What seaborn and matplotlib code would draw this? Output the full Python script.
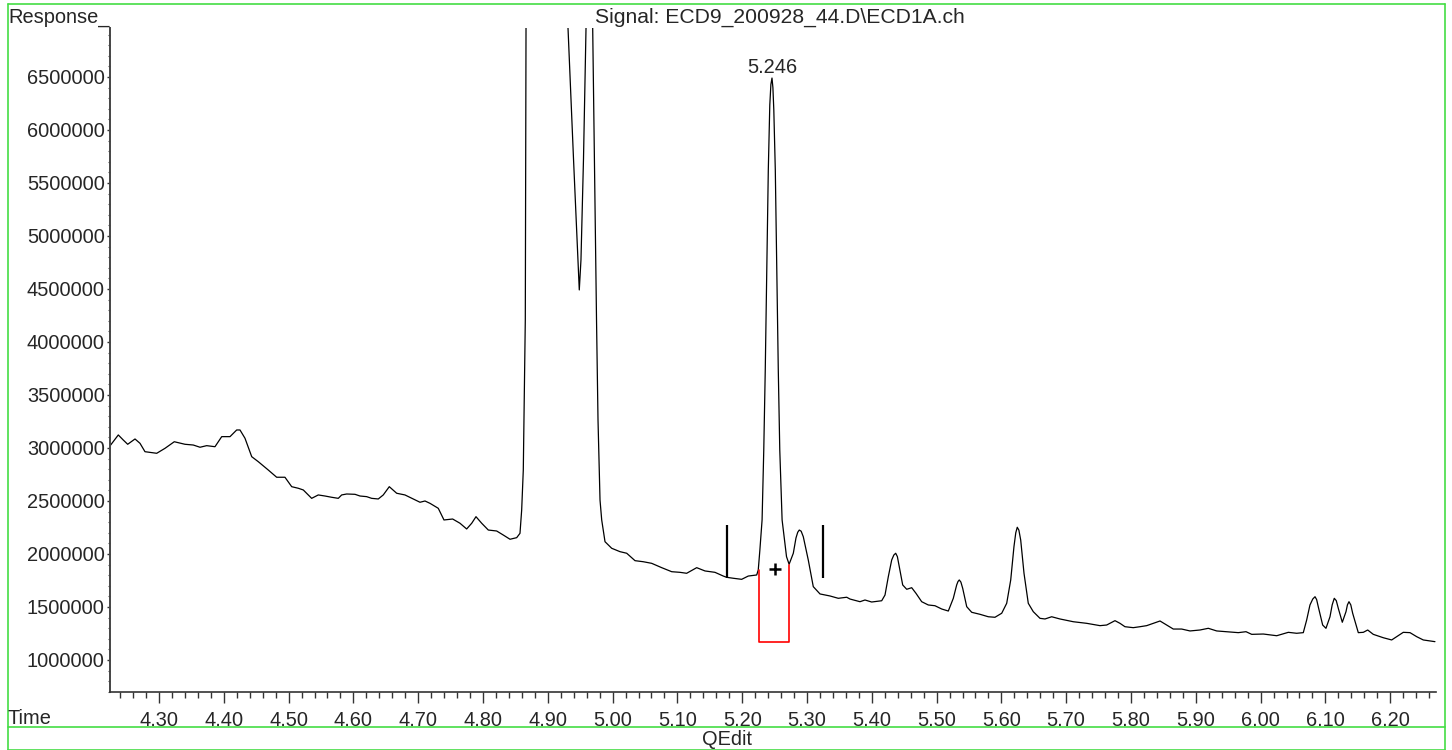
import matplotlib
matplotlib.use("Agg")
import matplotlib.pyplot as plt
import seaborn as sns
import pandas as pd
from matplotlib.ticker import MultipleLocator, FormatStrFormatter
from matplotlib.lines import Line2D

# ---------------- data ----------------
time_min = [
    4.2244, 4.2372, 4.2449, 4.2517, 4.2630, 4.2707, 4.2784, 4.2861, 4.2965, 4.3093,
    4.3236, 4.3401, 4.3529, 4.3633, 4.3736, 4.3864, 4.3968, 4.4096, 4.4199, 4.4250,
    4.4327, 4.4431, 4.4532, 4.4687, 4.4816, 4.4944, 4.5048, 4.5150, 4.5227,
    4.5356, 4.5458, 4.5562, 4.5665, 4.5767, 4.5819, 4.5897, 4.6025, 4.6102, 4.6205,
    4.6282, 4.6384, 4.6461, 4.6554, 4.6668, 4.6796, 4.6924, 4.7028, 4.7105, 4.7182,
    4.7310, 4.7398, 4.7532, 4.7645, 4.7748, 4.7826, 4.7892, 4.7980, 4.8082, 4.8211,
    4.8313, 4.8417, 4.8520, 4.8571, 4.8597, 4.8622,
    4.8653, 4.8664, 4.8680, 4.9000, 4.9295, 4.9312, 4.9397, 4.9466, 4.9486, 4.9512,
    4.9551, 4.9590, 4.9610, 4.9640, 4.9675, 4.9693, 4.9752, 4.9775, 4.9806, 4.9832, 4.9883,
    4.9986, 5.0114, 5.0218, 5.0346, 5.0474, 5.0603, 5.0758, 5.0912, 5.1040, 5.1143,
    5.1298, 5.1426, 5.1580, 5.1708, 5.1761, 5.1863, 5.1992, 5.2094, 5.2224, 5.2248,
    5.2273, 5.2307, 5.2333, 5.2356, 5.2380, 5.2403, 5.2426, 5.2443, 5.2460, 5.2474,
    5.2488, 5.2511, 5.2534, 5.2557, 5.2580, 5.2616, 5.2684, 5.2724, 5.2789, 5.2830,
    5.2857, 5.2881, 5.2910, 5.2943,
    5.3020, 5.3097, 5.3201, 5.3355, 5.3483, 5.3613,
    5.3664, 5.3818, 5.3895, 5.3998, 5.4153, 5.4204, 5.4255, 5.4307, 5.4340, 5.4369,
    5.4395, 5.4424, 5.4477, 5.4539, 5.4616, 5.4682, 5.4770, 5.4872, 5.4975, 5.5079,
    5.5181, 5.5258, 5.5310, 5.5330, 5.5350, 5.5375, 5.5403, 5.5465, 5.5542, 5.5670,
    5.5798, 5.5901, 5.6005, 5.6082, 5.6144, 5.6194, 5.6222, 5.6245, 5.6270, 5.6298,
    5.6349, 5.6415, 5.6492, 5.6596, 5.6673, 5.6776,
    5.6904, 5.7110, 5.7316, 5.7522, 5.7625, 5.7753, 5.7830, 5.7907, 5.8035, 5.8139,
    5.8242, 5.8344, 5.8448, 5.8551, 5.8653, 5.8782, 5.8911, 5.9065, 5.9193, 5.9323,
    5.9477, 5.9656, 5.9775, 5.9863, 6.0042, 6.0249, 6.0428, 6.0557, 6.0659, 6.0711,
    6.0762, 6.0805, 6.0840, 6.0865, 6.0890, 6.0958, 6.1009, 6.1071, 6.1105, 6.1137,
    6.1168, 6.1199, 6.1261, 6.1318, 6.1340, 6.1364, 6.1392, 6.1421, 6.1508, 6.1585,
    6.1653, 6.1739, 6.1894, 6.2023, 6.2100, 6.2202, 6.2306, 6.2409, 6.2511, 6.2691,
]

response = [
    3020000, 3123000, 3075000, 3035000, 3085000, 3044000, 2965000, 2959000, 2950000, 2997000,
    3059000, 3035000, 3028000, 3007000, 3022000, 3012000, 3107000, 3107000, 3170000, 3170000,
    3092000, 2918000, 2871000, 2792000, 2724000, 2724000, 2635000, 2620000, 2604000,
    2525000, 2557000, 2547000, 2535000, 2525000, 2557000, 2566000, 2563000, 2547000, 2541000,
    2525000, 2519000, 2557000, 2635000, 2573000, 2557000, 2519000, 2488000, 2500000, 2478000,
    2431000, 2321000, 2330000, 2290000, 2236000, 2290000, 2352000, 2290000, 2226000, 2217000,
    2179000, 2139000, 2154000, 2195000, 2415000, 2792000,
    4208000, 6962000, 7600000, 20000000, 7600000, 6962000, 5726000, 4774000, 4491000, 4774000,
    5726000, 6962000, 7600000, 14000000, 7600000, 6962000, 4208000, 3264000, 2509000, 2321000, 2116000,
    2054000, 2022000, 2007000, 1937000, 1927000, 1912000, 1871000, 1833000, 1827000, 1818000,
    1871000, 1840000, 1827000, 1792000, 1780000, 1771000, 1761000, 1792000, 1802000, 1849000,
    2038000, 2321000, 2981000, 3736000, 4679000, 5623000, 6236000, 6430000, 6490000, 6400000,
    6189000, 5623000, 4679000, 3736000, 2981000, 2321000, 1975000, 1903000, 2007000, 2151000,
    2205000, 2226000, 2215000, 2163000,
    1943000, 1692000, 1623000, 1604000, 1582000, 1592000,
    1575000, 1550000, 1566000, 1547000, 1559000, 1613000, 1786000, 1943000, 1990000, 2007000,
    1975000, 1880000, 1708000, 1667000, 1682000, 1629000, 1550000, 1519000, 1512000, 1481000,
    1462000, 1582000, 1708000, 1740000, 1755000, 1735000, 1676000, 1503000, 1450000, 1431000,
    1408000, 1403000, 1441000, 1535000, 1755000, 2069000, 2200000, 2252000, 2225000, 2132000,
    1818000, 1535000, 1456000, 1393000, 1387000, 1408000,
    1387000, 1361000, 1346000, 1324000, 1330000, 1371000, 1346000, 1314000, 1305000, 1314000,
    1324000, 1346000, 1368000, 1330000, 1292000, 1292000, 1274000, 1283000, 1299000, 1274000,
    1267000, 1258000, 1267000, 1242000, 1245000, 1229000, 1261000, 1252000, 1258000, 1377000,
    1519000, 1575000, 1597000, 1570000, 1503000, 1330000, 1299000, 1408000, 1520000, 1582000,
    1560000, 1488000, 1356000, 1456000, 1520000, 1550000, 1520000, 1441000, 1258000, 1261000,
    1283000, 1242000, 1210000, 1189000, 1220000, 1261000, 1258000, 1220000, 1189000, 1173000,
]

peak_label = "5.246"
peak_time = 5.246
peak_resp = 6490000

integration_marks = [5.176, 5.325]
mark_low = 1774000
mark_high = 2274000

box_times = [5.2255, 5.2255, 5.2718, 5.2718]
box_resp = [1849000, 1167000, 1167000, 1896000]

cross_time = [5.2506]
cross_resp = [1856000]

title_text = "Signal: ECD9_200928_44.D\\ECD1A.ch"
y_title = "Response_"
x_title = "Time"
footer_text = "QEdit"

x_limits = (4.2244, 6.2707)
y_limits = (698100, 6962000)

# ---------------- style ----------------
sns.set_style("white")
plt.rcParams['font.family'] = ['Liberation Sans', 'DejaVu Sans']
FS = 14.4

W, H = 1452, 750
fig = plt.figure(figsize=(W / 100, H / 100), dpi=100)
ax = fig.add_axes([110 / W, 1 - 692 / H, (1436 - 110) / W, (692 - 28) / H])

df = pd.DataFrame({"Time": time_min, "Response": response})
sns.lineplot(data=df, x="Time", y="Response", ax=ax, color="black",
             lw=0.9, estimator=None, sort=False)

ax.set_xlim(*x_limits)
ax.set_ylim(*y_limits)
ax.set_xlabel("")
ax.set_ylabel("")

for s in ["top", "right"]:
    ax.spines[s].set_visible(False)
ax.spines["left"].set_color("#444444")
ax.spines["left"].set_linewidth(1.4)
ax.spines["bottom"].set_color("#333333")
ax.spines["bottom"].set_linewidth(1.2)

ax.xaxis.set_major_locator(MultipleLocator(0.1))
ax.xaxis.set_minor_locator(MultipleLocator(0.02))
ax.xaxis.set_major_formatter(FormatStrFormatter("%.2f"))
ax.yaxis.set_major_locator(MultipleLocator(500000))
ax.yaxis.set_minor_locator(MultipleLocator(100000))
ax.yaxis.set_major_formatter(FormatStrFormatter("%d"))

ax.tick_params(axis="x", which="major", direction="out", length=8, width=1.0,
               color="#333333", pad=5.8, labelsize=FS, bottom=True)
ax.tick_params(axis="x", which="minor", direction="out", length=4.3, width=1.0,
               color="#333333", bottom=True)
ax.tick_params(axis="y", which="major", direction="out", length=2.2, width=1.0,
               color="#333333", pad=1.5, labelsize=FS, left=True)
ax.tick_params(axis="y", which="minor", direction="out", length=1.2, width=0.8,
               color="#555555", left=True)

# integration markers
ax.vlines(integration_marks, mark_low, mark_high, color="black", lw=1.6)
ax.plot(box_times, box_resp, color="red", lw=1.2)
ax.plot(cross_time, cross_resp, marker="+", ms=9, mew=1.8, color="black", ls="none")

ax.annotate(peak_label, (peak_time, peak_resp), xytext=(0, 1), textcoords="offset points",
            ha="center", va="bottom", fontsize=FS)

# texts in figure
fig.text(8 / W, 1 - 23 / H, y_title, ha="left", va="baseline", fontsize=FS)
fig.text(780 / W, 1 - 23 / H, title_text, ha="center", va="baseline", fontsize=15.2)
fig.text(8 / W, 1 - 723.5 / H, x_title, ha="left", va="baseline", fontsize=FS)
fig.text(727 / W, 1 - 745 / H, footer_text, ha="center", va="baseline", fontsize=FS)

# green frame
green = "#44dd44"
def fline(x0, y0, x1, y1):
    fig.add_artist(Line2D([x0 / W, x1 / W], [1 - y0 / H, 1 - y1 / H],
                          transform=fig.transFigure, color=green, lw=1.2))
fline(7.5, 3.5, 1444.5, 3.5)
fline(7.5, 3.5, 7.5, 749.5)
fline(1444.5, 3.5, 1444.5, 749.5)
fline(7.5, 727, 1444.5, 727)
fline(7.5, 749.5, 1444.5, 749.5)

fig.savefig("out.png", dpi=100)
